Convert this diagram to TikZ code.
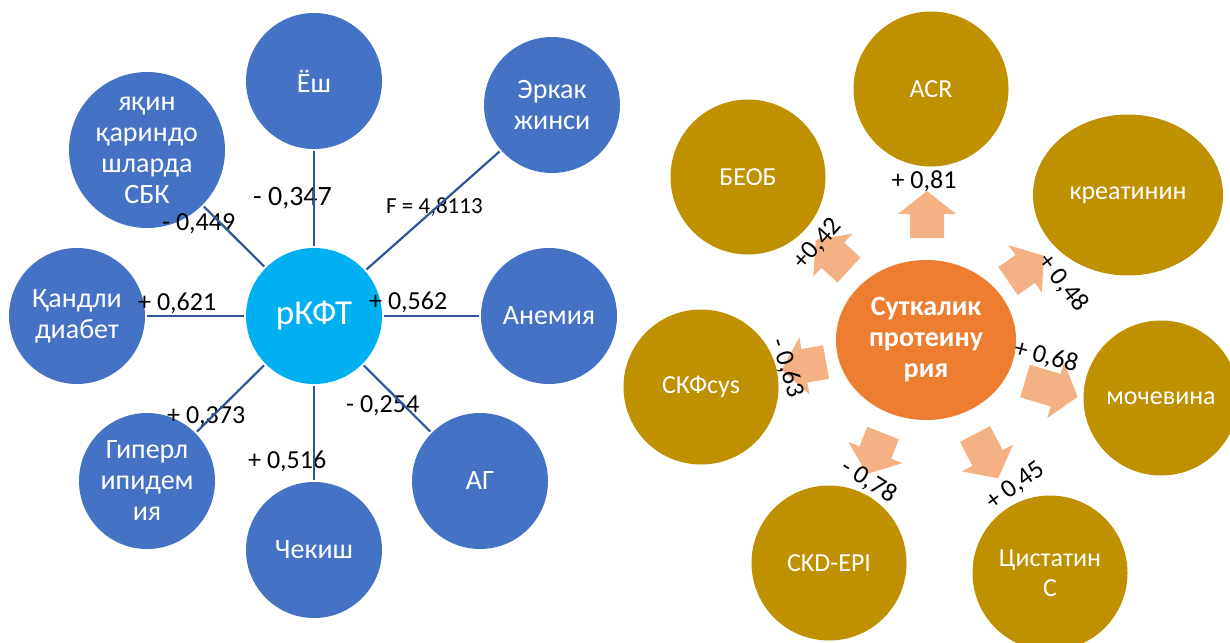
\documentclass[tikz,border=0pt]{standalone}
\usepackage{fontspec}
\setmainfont{Carlito}
\usetikzlibrary{shapes.geometric}

\definecolor{nodeblue}{HTML}{4472C4}
\definecolor{hubcyan}{HTML}{00B0F0}
\definecolor{linkblue}{HTML}{2F5597}
\definecolor{goldfill}{HTML}{BF9000}
\definecolor{corefill}{HTML}{ED7D31}
\definecolor{arrowfill}{HTML}{F4B183}

% block arrow: tail x, tail y, direction (degrees), total length
\newcommand\blockarrow[4]{%
  \begin{scope}[shift={(#1,#2)}, rotate=#3]
    \fill[arrowfill] (0,-17) -- (#4-23,-17) -- (#4-23,-29) -- (#4,0)
      -- (#4-23,29) -- (#4-23,17) -- (0,17) -- cycle;
  \end{scope}}

\tikzset{
  bub/.style={circle, fill=nodeblue, text=white, inner sep=0pt,
    minimum size=136pt, align=center, font=\fontsize{28}{31}\selectfont},
  hub/.style={circle, fill=hubcyan, text=white, inner sep=0pt,
    minimum size=136pt, font=\fontsize{35}{40}\selectfont},
  link/.style={draw=linkblue, line width=2.2pt, shorten <=2pt, shorten >=2pt},
  lab/.style={inner sep=0pt, anchor=base west, text=black,
    font=\fontsize{26}{30}\selectfont},
  gbub/.style={circle, fill=goldfill, text=white, inner sep=0pt,
    minimum size=155pt, align=center, font=\fontsize{26}{30}\selectfont},
  core/.style={ellipse, fill=corefill, text=white, inner sep=0pt,
    minimum width=180pt, minimum height=160pt, align=center,
    font=\fontsize{28}{31}\selectfont\bfseries},
  rlab/.style={inner sep=0pt, text=black, font=\fontsize{26}{30}\selectfont},
}

\begin{document}
\begin{tikzpicture}[x=1pt, y=-1pt]
\useasboundingbox (0,0) rectangle (1230,642);
\clip (0,0) rectangle (1230,642);

% ---- risk factors around rKFT ----
\node[bub] (esh) at (314,81) {Ёш};
\node[bub] (male) at (552,105) {Эркак\\жинси};
\node[bub, minimum size=156pt] (kin) at (147,150) {яқин\\қариндо\\шларда\\СБК};
\node[bub] (diab) at (77,316) {Қандли\\диабет};
\node[hub] (rkft) at (314,316) {рКФТ};
\node[bub] (anem) at (549,316) {Анемия};
\node[bub] (lipid) at (147,481) {Гиперл\\ипидем\\ия};
\node[bub] (smoke) at (314,550) {Чекиш};
\node[bub] (ag) at (480,481) {АГ};

\node[lab, font=\fontsize{28}{32}\selectfont] (cesh) at (253,205) {- 0,347};
\node[lab] (ckin) at (162,230) {- 0,449};
\node[lab, font=\fontsize{23}{27}\selectfont] (cmale) at (386,213) {F = 4,8113};
\node[lab] (cdiab) at (138,310) {+ 0,621};
\node[lab] (canem) at (369,309) {+ 0,562};
\node[lab] (clipid) at (167,423) {+ 0,373};
\node[lab] (cag) at (346,412) {- 0,254};
\node[lab] (csmoke) at (248,468) {+ 0,516};

\draw[link] (rkft) -- (esh);
\draw[link] (rkft) -- (male);
\draw[link] (rkft) -- (kin);
\draw[link] (rkft) -- (diab);
\draw[link] (rkft) -- (anem);
\draw[link] (rkft) -- (lipid);
\draw[link] (rkft) -- (smoke);
\draw[link] (rkft) -- (ag);

% ---- markers around daily proteinuria ----
\node[gbub] (acr) at (931,89) {ACR};
\node[gbub] (beob) at (748,177) {БЕОБ};
\node[gbub, ellipse, minimum width=190pt, minimum height=161pt] (creat) at (1128,195) {креатинин};
\node[core] (prot) at (926,340) {Суткалик\\протеину\\рия};
\node[gbub] (gfr) at (701,387) {СКФcys};
\node[gbub] (urea) at (1161,398) {мочевина};
\node[gbub] (ckd) at (829,563) {CKD-EPI};
\node[gbub] (cys) at (1050,573) {Цистатин\\С};

\blockarrow{927}{238}{90}{47}
\blockarrow{849}{270}{137.7}{45}
\blockarrow{1008}{281}{35}{44}
\blockarrow{826}{362}{190}{45}
\blockarrow{1025}{381}{-16.8}{55}
\blockarrow{883}{433}{-111.3}{44}
\blockarrow{975}{434}{-62.4}{50}

\node[rlab, anchor=base] (racr) at (924,188) {+ 0,81};
\node[rlab, rotate=48] (rbeob) at (818,244) {+0,42};
\node[rlab, rotate=-52] (rcreat) at (1063,283) {+ 0,48};
\node[rlab, rotate=-72] (rgfr) at (787,368) {- 0,63};
\node[rlab, rotate=-15] (rurea) at (1046,357) {+ 0,68};
\node[rlab, rotate=-32] (rckd) at (869,481) {- 0,78};
\node[rlab, rotate=36] (rcys) at (1016,486) {+ 0,45};
\end{tikzpicture}
\end{document}
